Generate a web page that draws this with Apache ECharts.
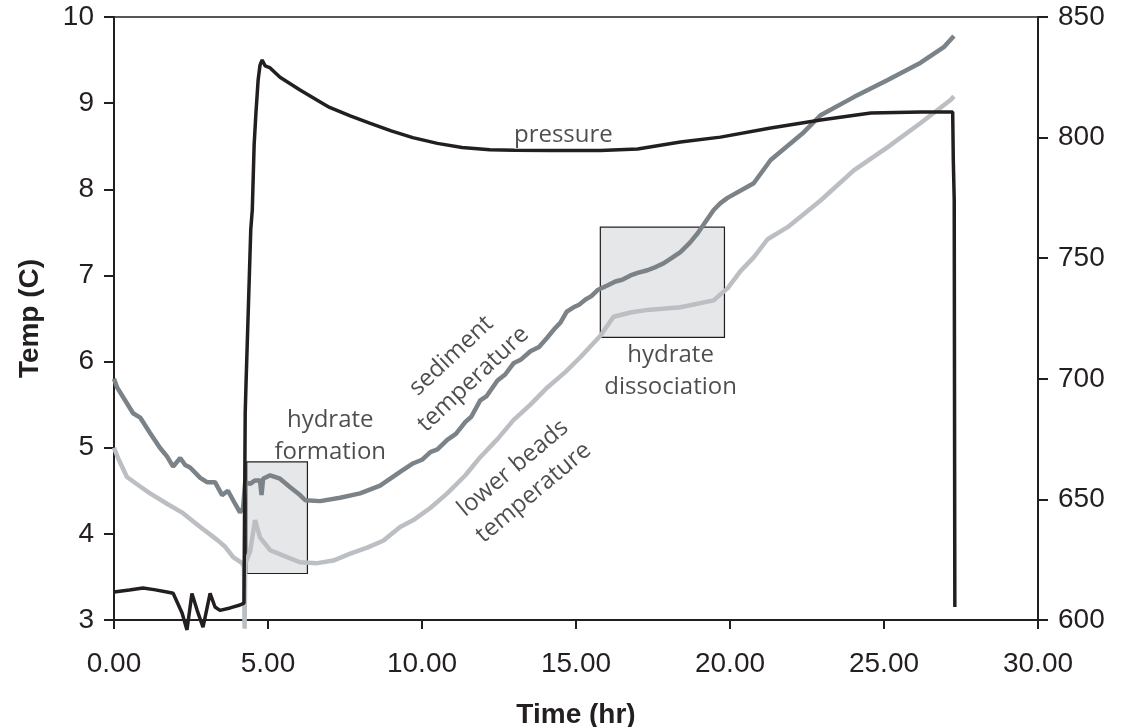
<!DOCTYPE html>
<html>
<head>
<meta charset="utf-8">
<script src="https://cdn.jsdelivr.net/npm/echarts@6/dist/echarts.min.js"></script>
<style>
  html, body { margin: 0; padding: 0; background: #fff; }
  #chart { width: 1123px; height: 727px; }
</style>
</head>
<body>
<div id="chart"></div>
<script>
// time axis ticks (hr)
var timeTicks = [0, 5, 10, 15, 20, 25, 30];

// pressure trace (right axis)
var pressTime = [0, 0.5, 0.94, 1.3, 1.72, 1.92, 2.21, 2.37, 2.53, 2.70, 2.89, 3.12, 3.28, 3.44, 3.77, 4.09, 4.22,
  4.26, 4.29, 4.44, 4.49, 4.55, 4.61, 4.68, 4.74, 4.81, 4.91, 5.07, 5.39, 6.04, 6.86, 7.0, 7.67, 8.3, 9.0, 9.7,
  10.5, 11.3, 12.2, 13.0, 14.17, 15.79, 17.0, 18.39, 19.69, 21.32, 22.94, 24.57, 26.19, 27.23, 27.25, 27.28, 27.30];
var pressVal = [611.6, 612.4, 613.3, 612.6, 611.6, 611.1, 602.9, 595.9, 611.0, 604.0, 597.0, 611.0, 605.4, 604.0, 605.0, 606.2, 607.0,
  685.8, 699.5, 761.7, 770.0, 797.0, 810.6, 823.9, 830.0, 832.2, 829.7, 828.9, 825.0, 819.7, 813.5, 812.5, 809.0, 806.0, 802.8, 800.0,
  797.6, 795.9, 795.0, 794.8, 794.7, 794.7, 795.3, 798.2, 800.2, 804.0, 807.3, 810.2, 810.6, 810.6, 790.7, 774.1, 605.4];

// sediment temperature (left axis)
var sedTime = [0, 0.1, 0.62, 0.85, 1.17, 1.49, 1.72, 1.92, 2.15, 2.31, 2.47, 2.80, 3.02, 3.28, 3.51, 3.70, 3.93, 4.09, 4.19,
  4.26, 4.42, 4.58, 4.74, 4.79, 4.84, 5.07, 5.39, 5.72, 6.04, 6.21, 6.69, 7.34, 7.99, 8.64, 9.29, 9.72,
  10.0, 10.27, 10.5, 10.82, 11.1, 11.41, 11.6, 11.89, 12.1, 12.45, 12.7, 12.97, 13.2, 13.52, 13.8, 14.07, 14.3, 14.49,
  14.7, 14.92, 15.1, 15.31, 15.5, 15.70, 16.0, 16.28, 16.5, 16.77, 17.0, 17.32, 17.6, 17.84, 18.1, 18.39, 18.7, 18.95,
  19.2, 19.47, 19.69, 19.92, 20.77, 21.32, 22.39, 22.94, 24.02, 25.12, 26.19, 26.94, 27.27];
var sedVal = [5.80, 5.70, 5.40, 5.35, 5.17, 5.00, 4.90, 4.78, 4.88, 4.80, 4.77, 4.65, 4.60, 4.60, 4.45, 4.50, 4.35, 4.25, 4.30,
  4.60, 4.58, 4.62, 4.62, 4.45, 4.64, 4.68, 4.64, 4.54, 4.45, 4.39, 4.38, 4.42, 4.47, 4.56, 4.72, 4.82,
  4.86, 4.95, 4.98, 5.09, 5.16, 5.30, 5.36, 5.55, 5.60, 5.78, 5.85, 5.98, 6.02, 6.12, 6.17, 6.28, 6.38, 6.45,
  6.58, 6.63, 6.66, 6.72, 6.76, 6.83, 6.88, 6.93, 6.95, 7.00, 7.03, 7.06, 7.10, 7.14, 7.20, 7.27, 7.38, 7.49,
  7.62, 7.76, 7.84, 7.90, 8.07, 8.34, 8.66, 8.86, 9.07, 9.27, 9.47, 9.65, 9.78];

// lower beads temperature (left axis)
var beadTime = [0, 0.13, 0.42, 0.85, 1.17, 1.72, 2.24, 2.80, 3.35, 3.61, 3.87, 4.16, 4.22, 4.24, 4.26, 4.42, 4.58,
  4.74, 5.07, 5.62, 6.04, 6.60, 7.12, 7.67, 8.22, 8.74, 9.29, 9.72, 10.27, 10.82, 11.41, 11.89, 12.45, 12.97,
  13.52, 14.07, 14.66, 15.14, 15.79, 16.22, 16.77, 17.32, 18.39, 19.47, 19.69, 19.92, 20.34, 20.77, 21.22, 21.87,
  22.94, 24.02, 25.12, 26.19, 27.17, 27.27];
var beadVal = [5.00, 4.88, 4.66, 4.55, 4.47, 4.35, 4.24, 4.08, 3.93, 3.85, 3.73, 3.66, 3.62, 2.90, 3.65, 3.80, 4.16,
  3.96, 3.81, 3.73, 3.67, 3.66, 3.69, 3.77, 3.84, 3.92, 4.08, 4.16, 4.30, 4.47, 4.68, 4.89, 5.10, 5.32,
  5.50, 5.70, 5.88, 6.05, 6.30, 6.52, 6.57, 6.60, 6.63, 6.71, 6.78, 6.85, 7.05, 7.21, 7.42, 7.56,
  7.87, 8.22, 8.49, 8.77, 9.04, 9.08];

// shaded boxes [t0, t1, tempLow, tempHigh]
var formationBox = [4.31, 6.28, 3.54, 4.835];
var dissociationBox = [15.79, 19.82, 6.28, 7.56];

// annotations [t, temp, text, angle]
var notes = [
  [14.59, 8.63, 'pressure', 0],
  [7.02, 5.13, 'hydrate\nformation', 0],
  [18.07, 5.89, 'hydrate\ndissociation', 0],
  [11.31, 5.93, 'sediment\ntemperature', 43],
  [13.29, 4.62, 'lower beads\ntemperature', 40]
];

function pairs(xs, ys) {
  return xs.map(function (x, i) { return [x, ys[i]]; });
}

var ink = '#231f20';
var sans = 'Liberation Sans, Arial, sans-serif';
var tickFont = { fontFamily: sans, fontSize: 28, color: ink };

var chart = echarts.init(document.getElementById('chart'));
chart.setOption({
  backgroundColor: '#fff',
  animation: false,
  grid: {
    left: 114, right: 85, top: 17, bottom: 107, show: true, borderColor: ink, borderWidth: 1.5,
    containLabel: false, outerBoundsMode: 'none'
  },
  xAxis: {
    type: 'value', min: timeTicks[0], max: timeTicks[timeTicks.length - 1], interval: 5,
    name: 'Time (hr)', nameLocation: 'middle', nameGap: 81,
    nameTextStyle: { fontFamily: sans, fontSize: 28, fontWeight: 'bold', color: ink },
    axisLine: { lineStyle: { color: ink, width: 2 } },
    axisTick: { length: 9, lineStyle: { color: ink, width: 2 } },
    axisLabel: Object.assign({ margin: 30, formatter: function (v) { return v.toFixed(2); } }, tickFont),
    splitLine: { show: false }
  },
  yAxis: [{
    type: 'value', min: 3, max: 10, interval: 1,
    name: 'Temp (C)', nameLocation: 'middle', nameGap: 70,
    nameTextStyle: { fontFamily: sans, fontSize: 28, fontWeight: 'bold', color: ink },
    axisLine: { show: true, lineStyle: { color: ink, width: 2 } },
    axisTick: { show: true, length: 10, lineStyle: { color: ink, width: 2 } },
    axisLabel: Object.assign({ margin: 20 }, tickFont),
    splitLine: { show: false }
  }, {
    type: 'value', min: 600, max: 850, interval: 50, position: 'right',
    axisLine: { show: true, lineStyle: { color: ink, width: 2 } },
    axisTick: { show: true, length: 10, lineStyle: { color: ink, width: 2 } },
    axisLabel: Object.assign({ margin: 20 }, tickFont),
    splitLine: { show: false }
  }],
  series: [
    {
      name: 'boxes', type: 'line', data: [], z: 1,
      markArea: {
        silent: true,
        itemStyle: { color: '#e6e7e8', borderColor: ink, borderWidth: 1.2 },
        data: [
          [{ coord: [formationBox[0], formationBox[3]] }, { coord: [formationBox[1], formationBox[2]] }],
          [{ coord: [dissociationBox[0], dissociationBox[3]] }, { coord: [dissociationBox[1], dissociationBox[2]] }]
        ]
      }
    },
    {
      name: 'sediment temperature', type: 'line', data: pairs(sedTime, sedVal), z: 3,
      showSymbol: false, clip: false, lineStyle: { color: '#7b8388', width: 4.5 }
    },
    {
      name: 'lower beads temperature', type: 'line', data: pairs(beadTime, beadVal), z: 3,
      showSymbol: false, clip: false, lineStyle: { color: '#bbbfc3', width: 4.5 }
    },
    {
      name: 'pressure', type: 'line', yAxisIndex: 1, data: pairs(pressTime, pressVal), z: 4,
      showSymbol: false, clip: false, lineStyle: { color: ink, width: 3.5 }
    },
    {
      name: 'notes', type: 'scatter', symbolSize: 0, z: 5, silent: true,
      data: notes.map(function (n) {
        return {
          value: [n[0], n[1]],
          label: {
            show: true, position: 'inside', formatter: n[2], rotate: n[3],
            fontFamily: 'Open Sans, sans-serif', fontSize: 24, lineHeight: 32, color: ink, align: 'center'
          }
        };
      })
    }
  ]
});
</script>
</body>
</html>
